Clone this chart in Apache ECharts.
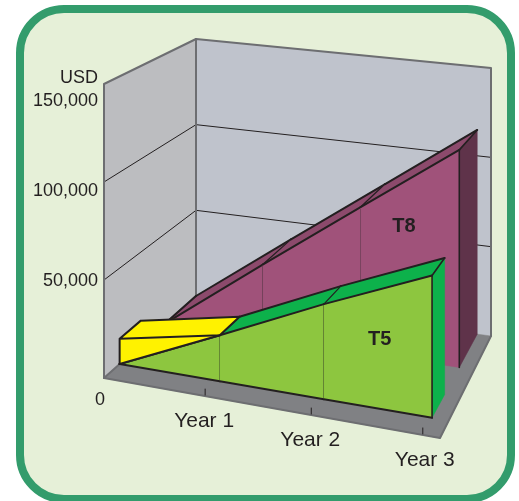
<!DOCTYPE html>
<html>
<head>
<meta charset="utf-8">
<style>html,body{margin:0;padding:0;background:#fff}#c{width:519px;height:501px}</style>
<script src="https://cdn.jsdelivr.net/npm/echarts@6/dist/echarts.min.js"></script>
</head>
<body>
<div id="c"></div>
<script>
// Data
var years = ['Year 1', 'Year 2', 'Year 3'];
var t8Values = [0, 40000, 78000, 114500];
var t5Values = [0, 23400, 47000, 68500];
var baseValues = [13200, 23400];
var usdTicks = [50000, 100000, 150000];

// Oblique box: corners of the plotted 3D space on the page
var MAX_X = 3.15, MAX_USD = 150000;
var BOX = {
  fl: [104, 378, 84], fr: [440, 438, 116],
  bl: [196, 296, 39], br: [491, 336, 68]
};
var T5_DEPTH = [0.17, 0.40], T8_DEPTH = [0.67, 1];
var INK = '#231f20', WALL = '#6d6e71';
var FONT = '"Liberation Sans", Arial, sans-serif';

function lerp(a, b, t) { return a + (b - a) * t; }
function proj(x, usd, z) {
  var t = x / MAX_X, k = 1.08 - 0.1 * z, u = t / (t + k * (1 - t));
  var f = [0, 1, 2].map(function (i) { return lerp(BOX.fl[i], BOX.fr[i], u); });
  var b = [0, 1, 2].map(function (i) { return lerp(BOX.bl[i], BOX.br[i], u); });
  var px = lerp(f[0], b[0], z), bot = lerp(f[1], b[1], z), top = lerp(f[2], b[2], z);
  return [px, lerp(bot, top, usd / MAX_USD)];
}
function P(api, x, usd, z) { return api.coord(proj(x, usd, z)); }
function poly(points, fill) {
  return { type: 'polygon', shape: { points: points }, style: { fill: fill, stroke: fill, lineWidth: 0.5 } };
}
function line(points, color, w) {
  return { type: 'polyline', shape: { points: points }, style: { fill: 'none', stroke: color, lineWidth: w, lineJoin: 'round', lineCap: 'round' } };
}
function text(p, s, opt) {
  return { type: 'text', x: p[0], y: p[1], style: {
    text: s, fill: INK, font: (opt.bold ? 'bold ' : '') + opt.size + 'px ' + FONT,
    textAlign: opt.align || 'center', textVerticalAlign: 'middle' } };
}

// Walls, floor and gridlines
function renderBox(params, api) {
  var c = [];
  var fl0 = P(api, 0, 0, 0), fr0 = P(api, MAX_X, 0, 0), bl0 = P(api, 0, 0, 1), br0 = P(api, MAX_X, 0, 1);
  var flT = P(api, 0, MAX_USD, 0), blT = P(api, 0, MAX_USD, 1), brT = P(api, MAX_X, MAX_USD, 1);
  c.push(poly([fl0, flT, blT, bl0], '#bcbdc0'));
  c.push(poly([bl0, blT, brT, br0], '#bfc3cc'));
  c.push(poly([fl0, bl0, br0, fr0], '#808184'));
  usdTicks.slice(0, 2).forEach(function (v) {
    c.push(line([P(api, 0, v, 0), P(api, 0, v, 1), P(api, MAX_X, v, 1)], INK, 1));
  });
  c.push(line([fl0, flT, blT, brT, br0], WALL, 2));
  c.push(line([blT, bl0], WALL, 2));
  c.push(line([fl0, bl0], WALL, 2));
  c.push(line([br0, fr0, fl0], WALL, 2));
  [1, 2, 3].forEach(function (x) {
    var a = P(api, x, 0, 0);
    c.push(line([[a[0], a[1] - 1], [a[0], a[1] - 7]], INK, 1));
  });
  return { type: 'group', children: c };
}

// One solid band: face, top surface and closing side
function bandRenderer(values, depth, col) {
  return function (params, api) {
    var i = api.value(0), v = api.value(1), c = [];
    if (i >= values.length - 1) return { type: 'group', children: [] };
    var v2 = values[i + 1], z0 = depth[0], z1 = depth[1];
    var f0 = P(api, i, v, z0), f1 = P(api, i + 1, v2, z0);
    var b0 = P(api, i, v, z1), b1 = P(api, i + 1, v2, z1);
    var g0 = P(api, i, 0, z0), g1 = P(api, i + 1, 0, z0);
    var gb1 = P(api, i + 1, 0, z1);
    var last = i === values.length - 2;
    if (last) c.push(poly([f1, b1, gb1, g1], col.side));
    c.push(poly([f0, f1, g1, g0], col.face));
    c.push(poly([f0, f1, b1, b0], col.top));
    c.push(line([b0, b1], INK, 2));
    c.push(line([b0, f0], INK, i === 0 ? 2 : 1.2));
    c.push(line([f0, f1], INK, 2));
    if (col.ground) c.push(line([g0, g1], col.ground, 2));
    c.push(line([f1, g1], INK, last ? 1.6 : 1));
    if (last) c.push(line([f1, b1], INK, 1.6));
    return { type: 'group', children: c };
  };
}

// The yellow block at the start of the front band
function renderBase(params, api) {
  var z0 = T5_DEPTH[0], z1 = T5_DEPTH[1];
  var g = P(api, 0, 0, z0), f0 = P(api, 0, baseValues[0], z0), f1 = P(api, 1, baseValues[1], z0);
  var b0 = P(api, 0, baseValues[0], z1), b1 = P(api, 1, baseValues[1], z1);
  return { type: 'group', children: [
    poly([f0, f1, b1, b0], '#fff200'),
    poly([g, f0, f1], '#fff200'),
    line([g, f0, b0, b1, f1, f0], INK, 2),
    line([g, f1], INK, 2)
  ] };
}

function renderLabels(params, api) {
  var c = [];
  var lift = { 50000: 1.5, 100000: 9.5, 150000: 17 };
  usdTicks.forEach(function (v) {
    var p = P(api, 0, v, 0);
    c.push(text([98, p[1] + lift[v]], v.toLocaleString('en-US'), { size: 18, align: 'right' }));
  });
  c.push(text([98, 78], 'USD', { size: 18, align: 'right' }));
  c.push(text([100, 400], '0', { size: 18 }));
  years.forEach(function (y, i) {
    var p = P(api, i + 1, 0, 0);
    c.push(text([p[0] + (i === 2 ? 2 : -1), p[1] + 25.5], y, { size: 21 }));
  });
  c.push(text(P(api, 2.44, 70500, T8_DEPTH[0]), 'T8', { size: 20, bold: true }));
  c.push(text(P(api, 2.52, 33700, T5_DEPTH[0]), 'T5', { size: 20, bold: true }));
  return { type: 'group', children: c };
}

function indexed(values) { return values.map(function (v, i) { return [i, v]; }); }
function custom(name, data, fn, z) {
  return { name: name, type: 'custom', coordinateSystem: 'cartesian2d', data: data, renderItem: fn,
           clip: false, silent: true, animation: false, z: z,
           encode: { x: 0, y: 1 } };
}

var chart = echarts.init(document.getElementById('c'), null, { renderer: 'canvas' });
chart.setOption({
  animation: false,
  tooltip: { show: false },
  grid: { left: 0, right: 0, top: 0, bottom: 0 },
  xAxis: { type: 'value', min: 0, max: 519, show: false },
  yAxis: { type: 'value', min: 0, max: 501, inverse: true, show: false },
  graphic: [{
    type: 'rect', z: 0, silent: true,
    shape: { x: 20, y: 9, width: 491, height: 490, r: 44 },
    style: { fill: '#e6f0d8', stroke: '#339c6c', lineWidth: 8 }
  }],
  series: [
    custom('Box', [[0, 0]], renderBox, 2),
    custom('T8', indexed(t8Values), bandRenderer(t8Values, T8_DEPTH, { face: '#a0527a', top: '#8c4a6c', side: '#5f334a' }), 3),
    custom('T5', indexed(t5Values), bandRenderer(t5Values, T5_DEPTH, { face: '#8dc63f', top: '#0db14b', side: '#0db14b', ground: INK }), 4),
    custom('Base', [[0, baseValues[0]]], renderBase, 5),
    custom('Labels', [[0, 0]], renderLabels, 6)
  ]
});
</script>
</body>
</html>
